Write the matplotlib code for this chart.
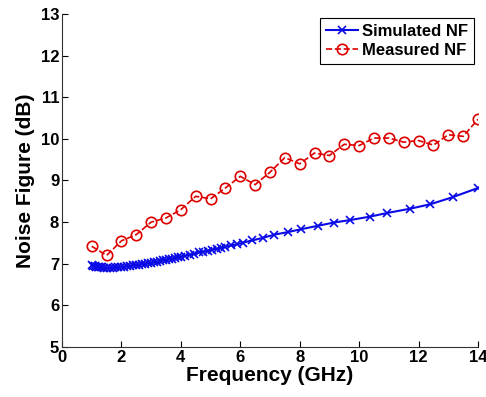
import matplotlib
matplotlib.use("Agg")
import matplotlib.pyplot as plt

# simulated noise figure (dense at low frequency)
freq_sim = [1.0, 1.05, 1.1, 1.15, 1.2, 1.25, 1.3, 1.35, 1.4, 1.5, 1.6, 1.7, 1.8, 1.9,
            2.0, 2.1, 2.2, 2.3, 2.4, 2.5, 2.6, 2.7, 2.8, 2.9, 3.0, 3.1, 3.2, 3.3, 3.4,
            3.5, 3.6, 3.7, 3.8, 3.9, 4.0, 4.15, 4.3, 4.45, 4.6, 4.75, 4.9, 5.05, 5.2,
            5.35, 5.5, 5.7, 5.9, 6.1, 6.4, 6.75, 7.15, 7.6, 8.05, 8.6, 9.15, 9.7,
            10.35, 10.95, 11.7, 12.4, 13.15, 14.0]
nf_sim = [6.97, 6.95, 6.94, 6.93, 6.92, 6.92, 6.91, 6.91, 6.9, 6.9, 6.9, 6.9, 6.91, 6.91,
          6.92, 6.93, 6.94, 6.95, 6.96, 6.97, 6.98, 6.99, 7.0, 7.01, 7.02, 7.04, 7.05, 7.06, 7.08,
          7.09, 7.11, 7.12, 7.14, 7.15, 7.17, 7.19, 7.22, 7.24, 7.27, 7.29, 7.31, 7.34, 7.36,
          7.38, 7.41, 7.44, 7.47, 7.51, 7.56, 7.62, 7.7, 7.76, 7.83, 7.91, 7.99, 8.05,
          8.13, 8.22, 8.32, 8.43, 8.6, 8.82]

# measured noise figure
freq_meas = [1.0, 1.5, 2.0, 2.5, 3.0, 3.5, 4.0, 4.5, 5.0, 5.5, 6.0, 6.5, 7.0, 7.5,
             8.0, 8.5, 9.0, 9.5, 10.0, 10.5, 11.0, 11.5, 12.0, 12.5, 13.0, 13.5, 14.0]
nf_meas = [7.42, 7.2, 7.55, 7.7, 8.0, 8.1, 8.3, 8.62, 8.56, 8.82, 9.1, 8.9, 9.2, 9.55,
           9.4, 9.66, 9.6, 9.87, 9.84, 10.02, 10.02, 9.92, 9.96, 9.85, 10.1, 10.06, 10.47]

plt.rcParams['font.family'] = ['Liberation Sans', 'DejaVu Sans']
plt.rcParams['font.weight'] = 'bold'

fig = plt.figure(figsize=(4.86, 3.97), dpi=100)
ax = fig.add_axes([0.1276, 0.126, 0.8559, 0.8387])

ax.plot(freq_sim, nf_sim, '-', color='#0a0ae6', lw=1.5, marker='x', ms=5.5, mew=1.2,
        label='Simulated NF')
ax.plot(freq_meas, nf_meas, '--', color='#dd0000', lw=1.2, marker='o', ms=7.5, mfc='none',
        mew=1.2, label='Measured NF')

ax.set_xlim(0, 14)
ax.set_ylim(5, 13)
ax.set_xticks(range(0, 15, 2))
ax.set_yticks(range(5, 14))
ax.spines['top'].set_visible(False)
ax.spines['right'].set_visible(False)
ax.spines['left'].set_color('#333333')
ax.spines['bottom'].set_color('#333333')
ax.tick_params(direction='in', length=4, labelsize=12, pad=2)
for lab in ax.get_xticklabels() + ax.get_yticklabels():
    lab.set_fontweight('bold')

ax.set_xlabel('Frequency (GHz)', fontsize=15, fontweight='bold', labelpad=1)
ax.set_ylabel('Noise Figure (dB)', fontsize=15, fontweight='bold', labelpad=4)

leg = ax.legend(loc='upper right', fontsize=12, fancybox=False, framealpha=1,
                edgecolor='black', handlelength=1.9, borderaxespad=0.25,
                borderpad=0.35, labelspacing=0.25, handletextpad=0.25)
leg.get_frame().set_linewidth(0.8)

fig.savefig('out.png', dpi=100)
